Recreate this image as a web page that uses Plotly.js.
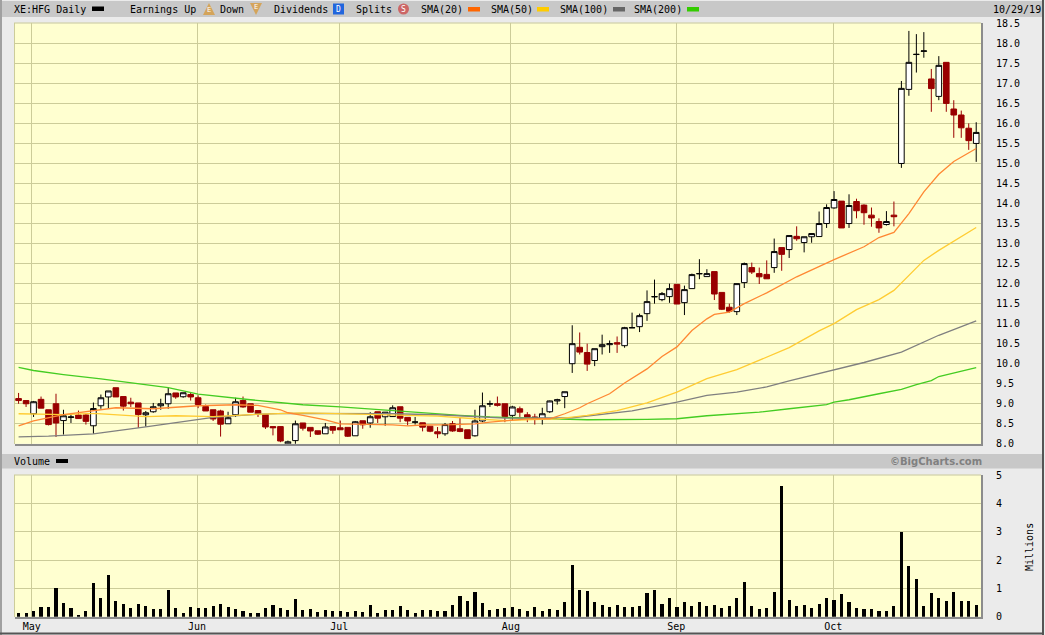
<!DOCTYPE html>
<html>
<head>
<meta charset="utf-8">
<script src="https://cdn.plot.ly/plotly-3.0.1.min.js"></script>
<style>html,body{margin:0;padding:0;background:#ebebeb;overflow:hidden}#chart{width:1045px;height:635px}</style>
</head>
<body>
<div id="chart"></div>
<script>
// one entry per trading session, Apr 29 to Oct 29 2019
var priceOpen = [9.13,9.08,8.75,9.11,8.85,9.00,8.58,8.66,8.72,8.72,8.45,8.95,9.17,9.40,9.18,9.04,9.02,8.725,8.80,8.95,9.00,9.27,9.175,9.23,9.15,8.93,8.85,8.82,8.50,8.725,9.08,9.00,8.83,8.73,8.43,8.43,8.00,8.08,8.52,8.41,8.325,8.25,8.43,8.40,8.41,8.20,8.575,8.52,8.80,8.675,8.68,8.925,8.66,8.54,8.525,8.44,8.30,8.25,8.50,8.375,8.35,8.20,8.57,8.99,9.00,9.00,8.71,8.875,8.725,8.67,8.62,8.80,9.07,9.18,10.00,10.41,10.28,10.08,10.425,10.475,10.525,10.45,10.895,10.925,11.25,11.67,11.60,11.675,11.98,11.525,11.875,12.245,12.175,12.30,11.78,11.41,11.30,12.025,12.40,12.25,12.23,12.40,12.90,12.85,13.18,13.025,13.17,13.175,13.50,13.89,14.06,13.50,14.05,13.96,13.71,13.55,13.475,13.71,15.00,16.85,17.72,17.80,17.11,16.675,17.525,16.36,16.21,15.88,15.50];
var priceHigh = [9.27,9.08,9.07,9.18,8.85,9.25,8.85,8.77,8.83,8.75,9.03,9.23,9.32,9.40,9.18,9.15,9.02,8.82,9.02,9.125,9.40,9.27,9.275,9.27,9.21,8.98,8.85,8.85,8.80,9.15,9.18,9.00,8.83,8.73,8.43,8.43,8.08,8.58,8.52,8.41,8.325,8.52,8.43,8.58,8.41,8.57,8.575,8.79,8.80,8.79,8.96,8.925,8.66,8.67,8.525,8.44,8.42,8.52,8.57,8.65,8.35,8.85,9.28,9.08,9.18,9.00,8.95,8.93,8.79,8.75,8.90,9.08,9.125,9.30,10.96,10.78,10.50,10.375,10.725,10.58,10.68,10.92,11.275,11.25,11.83,12.10,11.79,12.00,11.98,11.95,12.25,12.61,12.36,12.30,11.78,11.50,12.00,12.525,12.525,12.40,12.58,13.125,12.90,13.20,13.43,13.17,13.25,13.80,13.98,14.31,14.06,14.23,14.12,13.98,13.90,13.63,13.81,14.05,17.06,18.31,18.23,18.28,17.36,17.68,17.525,16.58,16.32,16.00,16.03];
var priceLow = [9.00,8.92,8.67,8.89,8.46,8.17,8.23,8.52,8.62,8.48,8.25,8.875,8.875,9.17,8.83,8.92,8.40,8.43,8.775,8.85,8.875,9.125,9.15,9.08,8.89,8.82,8.57,8.18,8.50,8.67,8.90,8.79,8.67,8.37,8.21,8.04,7.98,7.98,8.33,8.17,8.22,8.25,8.25,8.35,8.17,8.20,8.375,8.40,8.52,8.45,8.67,8.54,8.46,8.48,8.31,8.29,8.14,8.20,8.30,8.29,8.12,8.18,8.54,8.92,8.93,8.54,8.58,8.67,8.54,8.48,8.48,8.77,8.98,8.89,9.77,10.23,9.82,9.94,10.23,10.27,10.27,10.40,10.895,10.79,11.07,11.50,11.56,11.52,11.49,11.215,11.875,12.11,12.175,11.59,11.34,11.27,11.215,11.89,12.24,11.99,12.12,12.27,12.32,12.64,13.07,12.78,13.02,13.175,13.39,13.87,13.39,13.39,13.63,13.47,13.42,13.27,13.45,13.43,14.89,16.69,17.27,17.64,16.29,16.58,16.29,15.64,15.64,15.34,15.04];
var priceClose = [9.08,9.00,9.05,8.89,8.48,8.52,8.70,8.67,8.63,8.56,8.88,9.15,9.32,9.17,8.94,9.00,8.73,8.775,8.925,9.00,9.25,9.17,9.275,9.17,8.98,8.82,8.62,8.49,8.65,9.05,8.92,8.79,8.75,8.42,8.40,8.07,8.05,8.50,8.39,8.32,8.24,8.42,8.34,8.35,8.19,8.55,8.475,8.675,8.64,8.79,8.90,8.64,8.57,8.545,8.415,8.315,8.25,8.48,8.32,8.31,8.13,8.57,8.95,9.00,8.96,8.68,8.92,8.79,8.66,8.65,8.75,9.07,9.10,9.30,10.50,10.29,9.99,10.375,10.475,10.50,10.49,10.90,10.90,11.20,11.55,11.675,11.75,11.875,11.49,11.85,12.225,12.25,12.25,11.74,11.36,11.31,12.00,12.50,12.29,12.17,12.12,12.80,12.73,13.20,13.12,13.17,13.25,13.50,13.90,14.10,13.39,13.95,13.82,13.77,13.64,13.39,13.55,13.67,16.875,17.525,17.725,17.81,16.87,17.45,16.50,16.21,15.89,15.57,15.775];
var volumeMillions = [0.12,0.12,0.19,0.33,0.33,1.01,0.48,0.30,0.05,0.19,1.19,0.65,1.48,0.55,0.44,0.30,0.44,0.37,0.26,0.26,0.94,0.30,0.12,0.33,0.30,0.30,0.37,0.44,0.33,0.26,0.19,0.12,0.12,0.30,0.40,0.30,0.23,0.62,0.23,0.26,0.15,0.23,0.19,0.19,0.15,0.19,0.15,0.40,0.12,0.23,0.23,0.37,0.23,0.12,0.23,0.23,0.19,0.19,0.40,0.73,0.55,0.87,0.48,0.23,0.26,0.30,0.33,0.26,0.19,0.33,0.19,0.26,0.23,0.51,1.83,0.94,0.90,0.51,0.40,0.33,0.40,0.33,0.33,0.37,0.83,0.94,0.44,0.65,0.33,0.51,0.38,0.52,0.38,0.42,0.31,0.38,0.67,1.24,0.38,0.27,0.31,0.88,4.63,0.60,0.38,0.42,0.31,0.45,0.67,0.60,0.81,0.52,0.31,0.27,0.27,0.20,0.20,0.38,2.99,1.81,1.35,0.38,0.85,0.67,0.56,0.88,0.56,0.56,0.42];

var sma20Sessions = [0,2,6,10,13,18,21,24,29,32,35,36,38,41,43,46,50,52,54,58,61,63,68,71,73,75,76,79,81,84,86,88,90,92,93,95,97,100,104,109,113,115,117,119,121,123,125,128];
var sma20Values = [8.45,8.57,8.73,8.83,8.90,8.875,8.92,8.95,8.975,8.96,8.85,8.775,8.71,8.60,8.50,8.49,8.475,8.45,8.47,8.48,8.50,8.54,8.62,8.625,8.75,8.90,9.00,9.25,9.52,9.87,10.18,10.42,10.83,11.12,11.23,11.29,11.50,11.77,12.17,12.60,12.92,13.15,13.28,13.75,14.29,14.73,15.05,15.375];
var sma50Sessions = [0,6,10,17,21,26,31,38,41,50,56,61,65,72,76,80,84,88,92,96,99,103,107,109,112,115,117,121,123,126,128];
var sma50Values = [8.75,8.73,8.76,8.68,8.70,8.68,8.73,8.77,8.76,8.72,8.69,8.625,8.58,8.62,8.71,8.83,9.02,9.29,9.625,9.85,10.08,10.40,10.82,11.00,11.35,11.60,11.83,12.58,12.83,13.18,13.40];
var sma100Sessions = [0,4,10,17,26,32,36,50,56,65,74,76,82,88,92,96,100,103,109,113,118,119,123,128];
var sma100Values = [8.175,8.19,8.25,8.42,8.66,8.74,8.76,8.75,8.725,8.64,8.65,8.69,8.82,9.04,9.21,9.29,9.42,9.57,9.84,10.03,10.29,10.375,10.71,11.07];
var sma200Sessions = [0,2,6,11,20,24,31,38,43,50,59,63,68,74,76,84,88,92,99,103,108,109,111,115,118,120,122,123,125,128];
var sma200Values = [9.91,9.83,9.73,9.62,9.40,9.24,9.10,8.975,8.92,8.82,8.71,8.67,8.64,8.60,8.60,8.61,8.625,8.70,8.79,8.875,8.98,9.04,9.10,9.25,9.36,9.48,9.58,9.68,9.77,9.90];

var monthTicks = [1.75,23.85,42.85,65.8,87.9,108.9];
var monthLabels = ['May','Jun','Jul','Aug','Sep','Oct'];
var priceTicks = [8,8.5,9,9.5,10,10.5,11,11.5,12,12.5,13,13.5,14,14.5,15,15.5,16,16.5,17,17.5,18,18.5];
var volumeTicks = [0,1,2,3,4,5];

var W = 1045, H = 635;
var sessions = priceOpen.map(function (_, i) { return i; });
var RED = '#990000';
var xRange = [-0.48, 128.64];

function px(x) { return x / W; }
function py(y) { return 1 - y / H; }

var traces = [
  {type:'candlestick', x:sessions, open:priceOpen, high:priceHigh, low:priceLow, close:priceClose,
   xaxis:'x', yaxis:'y', whiskerwidth:0, hoverinfo:'skip',
   increasing:{line:{color:'#000000',width:1}, fillcolor:'#FFFFFF'},
   decreasing:{line:{color:RED,width:1}, fillcolor:RED}},
  {type:'scatter', mode:'lines', x:sma200Sessions, y:sma200Values, xaxis:'x', yaxis:'y', line:{color:'#44CC22',width:1.3}, hoverinfo:'skip'},
  {type:'scatter', mode:'lines', x:sma100Sessions, y:sma100Values, xaxis:'x', yaxis:'y', line:{color:'#808080',width:1.3}, hoverinfo:'skip'},
  {type:'scatter', mode:'lines', x:sma50Sessions, y:sma50Values, xaxis:'x', yaxis:'y', line:{color:'#FFCC33',width:1.3}, hoverinfo:'skip'},
  {type:'scatter', mode:'lines', x:sma20Sessions, y:sma20Values, xaxis:'x', yaxis:'y', line:{color:'#FF8833',width:1.3}, hoverinfo:'skip'},
  {type:'bar', x:sessions, y:volumeMillions, xaxis:'x2', yaxis:'y2', width:0.42, marker:{color:'#000000',line:{width:0}}, hoverinfo:'skip'}
];

var FONT = '"DejaVu Sans Mono", monospace';
var shapes = [];
var annotations = [];
function rect(x0,y0,x1,y1,color){
  shapes.push({type:'rect',xref:'paper',yref:'paper',x0:px(x0),x1:px(x1),y0:py(y0),y1:py(y1),fillcolor:color,line:{width:0},layer:'below'});
}
function label(x,y,text,opts){
  opts = opts || {};
  annotations.push({xref:'paper',yref:'paper',x:px(x),y:py(y),text:text,showarrow:false,
    xanchor:opts.anchor||'left',yanchor:'middle',textangle:opts.angle||0,borderpad:0,borderwidth:0,
    font:{family:opts.family||FONT,size:opts.size||10,color:opts.color||'#000000'}});
}
function tri(x0,x1,ytop,ybot,up,color){
  var p = up ? 'M'+px(x0)+','+py(ybot)+'L'+px(x1)+','+py(ybot)+'L'+px((x0+x1)/2)+','+py(ytop)+'Z'
             : 'M'+px(x0)+','+py(ytop)+'L'+px(x1)+','+py(ytop)+'L'+px((x0+x1)/2)+','+py(ybot)+'Z';
  shapes.push({type:'path',xref:'paper',yref:'paper',path:p,fillcolor:color,line:{width:0},layer:'below'});
}

// header strips and frame
rect(2,1,1042,17,'#C8C8C8');
rect(2,454,1042,468.5,'#C8C8C8');
rect(0,0,2,635,'#A0A0A0');
rect(1042,0,1044,635,'#555555');
rect(0,632.5,1044,634.5,'#555555');
// plot edges
rect(14,22.5,981,23.5,'#CCCC99');
rect(14,23,15,444,'#CCCC99');
rect(14,474.5,981,475.5,'#CCCC99');
rect(14,475,15,617,'#CCCC99');

// legend row
label(14,9,'XE:HFG Daily');
rect(92,6.5,104,11,'#000000');
label(130,9,'Earnings Up');
tri(203,215,3,15,true,'#D4A45A');
label(209,10.5,'E',{anchor:'center',size:7,color:'#FFFFFF'});
label(220,9,'Down');
tri(250,262,3,15,false,'#D4A45A');
label(256,7.5,'E',{anchor:'center',size:7,color:'#FFFFFF'});
label(274,9,'Dividends');
rect(333,3.5,344,14.5,'#2266DD');
label(338.5,9,'D',{anchor:'center',size:8,color:'#FFFFFF'});
label(356,9,'Splits');
shapes.push({type:'circle',xref:'paper',yref:'paper',x0:px(398),x1:px(409),y0:py(3.5),y1:py(14.5),fillcolor:'#CC6666',line:{width:0},layer:'below'});
label(403.5,9,'S',{anchor:'center',size:8,color:'#FFFFFF'});
label(421,9,'SMA(20)');  rect(468,7,480,11.5,'#FF6600');
label(491,9,'SMA(50)');  rect(537,7,549,11.5,'#FFCC00');
label(560,9,'SMA(100)'); rect(613,7,625,11.5,'#666666');
label(634,9,'SMA(200)'); rect(687,7,699,11.5,'#33CC00');
label(993,9,'10/29/19');

label(14,461,'Volume');
rect(56,459,68,463,'#000000');
label(982,461,'<b>©BigCharts.com</b>',{anchor:'right',family:'"DejaVu Sans", sans-serif',size:10,color:'#808080'});
label(1029,547,'Millions',{anchor:'center',angle:-90});

var baseAxis = {type:'linear', range:xRange, tickmode:'array', tickvals:monthTicks, ticktext:monthLabels,
  showgrid:true, gridcolor:'#CCCC99', gridwidth:1, zeroline:false, ticks:'', showline:true, linecolor:'#8C8C8C', linewidth:2,
  tickfont:{family:FONT,size:10,color:'#000000'}, fixedrange:true};

var layout = {
  width:W, height:H, autosize:false, margin:{l:0,r:0,t:0,b:0,pad:0},
  paper_bgcolor:'#EBEBEB', plot_bgcolor:'#FFFFD0', showlegend:false, dragmode:false,
  boxgap:0.25, boxgroupgap:0, bargap:0,
  xaxis:Object.assign({}, baseAxis, {domain:[px(15),px(981)], anchor:'y', showticklabels:false, rangeslider:{visible:false}}),
  xaxis2:Object.assign({}, baseAxis, {domain:[px(15),px(981)], anchor:'y2', showticklabels:true, matches:'x', ticklabelstandoff:-1}),
  yaxis:{domain:[py(443.8),py(23.3)], range:[8,18.5], side:'right', anchor:'x', tickmode:'array', tickvals:priceTicks,
    ticktext:priceTicks.map(function(v){return v.toFixed(1);}), showgrid:true, gridcolor:'#CCCC99', gridwidth:1, zeroline:false,
    showline:true, linecolor:'#8C8C8C', linewidth:2, ticks:'', ticklabelstandoff:11,
    tickfont:{family:FONT,size:10,color:'#000000'}, fixedrange:true},
  yaxis2:{domain:[py(616.7),py(475.3)], range:[0,5], side:'right', anchor:'x2', tickmode:'array', tickvals:volumeTicks,
    showgrid:true, gridcolor:'#CCCC99', gridwidth:1, zeroline:false,
    showline:true, linecolor:'#8C8C8C', linewidth:2, ticks:'', ticklabelstandoff:11,
    tickfont:{family:FONT,size:10,color:'#000000'}, fixedrange:true},
  shapes:shapes, annotations:annotations
};
Plotly.newPlot('chart', traces, layout, {displayModeBar:false, staticPlot:true, responsive:false});
</script>
</body>
</html>
